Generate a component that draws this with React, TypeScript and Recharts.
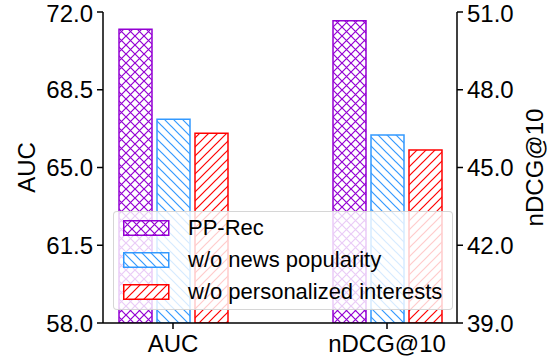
import React from 'react';
import { BarChart, Bar, XAxis, YAxis, Legend } from 'recharts';

const categories = ['AUC', 'nDCG@10'];
const seriesNames = ['PP-Rec', 'w/o news popularity', 'w/o personalized interests'];
const aucValues = [71.22, 67.17, 66.54];
const ndcgValues = [50.66, 46.25, 45.68];
const aucTicks = [58.0, 61.5, 65.0, 68.5, 72.0];
const ndcgTicks = [39.0, 42.0, 45.0, 48.0, 51.0];
const seriesColors = ['#9400d3', '#3399ff', '#ff0000'];
const seriesPatterns = ['hatchCross', 'hatchBack', 'hatchFwd'];

const data = categories.map((cat, ci) => {
  const row: Record<string, any> = { cat };
  seriesNames.forEach((_, si) => {
    row[`auc${si}`] = ci === 0 ? aucValues[si] : null;
    row[`ndcg${si}`] = ci === 1 ? ndcgValues[si] : null;
  });
  return row;
});

const FONT = '"Liberation Sans", Arial, Helvetica, sans-serif';
const P = 9;

const PatternDefs = () => (
  <svg width={0} height={0} style={{ position: 'absolute', left: 0, top: 0 }}>
    <defs>
      <pattern id="hatchCross" patternUnits="userSpaceOnUse" width={P} height={P}>
        <rect width={P} height={P} fill="#fff" />
        <path
          d={`M-1,-1L${P + 1},${P + 1}M-1,${P + 1}L${P + 1},-1`}
          stroke={seriesColors[0]}
          strokeWidth={1.2}
        />
      </pattern>
      <pattern id="hatchBack" patternUnits="userSpaceOnUse" width={P} height={P}>
        <rect width={P} height={P} fill="#fff" />
        <path
          d={`M-1,-1L${P + 1},${P + 1}M-2,${P - 2}L2,${P + 2}M${P - 2},-2L${P + 2},2`}
          stroke={seriesColors[1]}
          strokeWidth={1.2}
        />
      </pattern>
      <pattern id="hatchFwd" patternUnits="userSpaceOnUse" width={P} height={P}>
        <rect width={P} height={P} fill="#fff" />
        <path
          d={`M-1,${P + 1}L${P + 1},-1M-2,2L2,-2M${P - 2},${P + 2}L${P + 2},${P - 2}`}
          stroke={seriesColors[2]}
          strokeWidth={1.2}
        />
      </pattern>
    </defs>
  </svg>
);

const LegendBox = () => (
  <div
    style={{
      width: 340,
      height: 99,
      boxSizing: 'border-box',
      border: '1px solid rgba(204,204,204,0.8)',
      borderRadius: 4,
      background: 'rgba(255,255,255,0.8)',
      position: 'relative',
      fontFamily: FONT,
    }}
  >
    {seriesNames.map((name, i) => (
      <div
        key={name}
        style={{
          position: 'absolute',
          left: 9,
          top: 8 + i * 32.4,
          height: 16,
          display: 'flex',
          alignItems: 'center',
          whiteSpace: 'nowrap',
        }}
      >
        <svg width={47} height={16} style={{ display: 'block' }}>
          <rect
            x={0.75}
            y={0.75}
            width={45}
            height={14.5}
            fill={`url(#${seriesPatterns[i]})`}
            stroke={seriesColors[i]}
            strokeWidth={1.5}
          />
        </svg>
        <span style={{ marginLeft: 18, fontSize: 22, color: '#000', lineHeight: '22px' }}>{name}</span>
      </div>
    ))}
  </div>
);

const axisLine = { stroke: '#000', strokeWidth: 1.5 };
const tickLine = { stroke: '#000', strokeWidth: 1.5 };
const tickStyle = { fill: '#000', fontSize: 24, fontFamily: FONT };

export default function App() {
  return (
    <div style={{ position: 'absolute', left: 0, top: 0, fontFamily: FONT, background: '#fff' }}>
      <PatternDefs />
      <BarChart
        width={554}
        height={362}
        data={data}
        margin={{ top: 12, right: 37, bottom: 9, left: 43 }}
        barSize={33}
        barGap={5}
      >
        <XAxis
          dataKey="cat"
          xAxisId={0}
          padding={{ left: -37, right: -37 }}
          axisLine={axisLine}
          tickLine={tickLine}
          tickSize={6}
          tickMargin={6}
          tick={tickStyle}
          height={30}
          interval={0}
        />
        <XAxis
          dataKey="cat"
          xAxisId="top"
          orientation="top"
          height={0}
          tick={false}
          tickLine={false}
          axisLine={axisLine}
        />
        <YAxis
          yAxisId="left"
          orientation="left"
          width={60}
          domain={[aucTicks[0], aucTicks[aucTicks.length - 1]]}
          ticks={aucTicks}
          allowDataOverflow
          tickFormatter={(v: number) => v.toFixed(1)}
          axisLine={axisLine}
          tickLine={tickLine}
          tickSize={6}
          tickMargin={4}
          tick={tickStyle}
          label={{
            value: 'AUC',
            angle: -90,
            position: 'center',
            dx: -47,
            style: { fill: '#000', fontSize: 24, fontFamily: FONT },
          }}
        />
        <YAxis
          yAxisId="right"
          orientation="right"
          width={60}
          domain={[ndcgTicks[0], ndcgTicks[ndcgTicks.length - 1]]}
          ticks={ndcgTicks}
          allowDataOverflow
          tickFormatter={(v: number) => v.toFixed(1)}
          axisLine={axisLine}
          tickLine={tickLine}
          tickSize={6}
          tickMargin={4}
          tick={tickStyle}
          label={{
            value: 'nDCG@10',
            angle: -90,
            position: 'center',
            dx: 47,
            style: { fill: '#000', fontSize: 24, fontFamily: FONT },
          }}
        />
        {seriesNames.map((name, si) => (
          <Bar
            key={`auc${si}`}
            dataKey={`auc${si}`}
            name={name}
            yAxisId="left"
            stackId={`s${si}`}
            fill={`url(#${seriesPatterns[si]})`}
            stroke={seriesColors[si]}
            strokeWidth={1.5}
            isAnimationActive={false}
          />
        ))}
        {seriesNames.map((name, si) => (
          <Bar
            key={`ndcg${si}`}
            dataKey={`ndcg${si}`}
            name={name}
            yAxisId="right"
            stackId={`s${si}`}
            fill={`url(#${seriesPatterns[si]})`}
            stroke={seriesColors[si]}
            strokeWidth={1.5}
            isAnimationActive={false}
          />
        ))}
        <Legend
          layout="vertical"
          align="center"
          verticalAlign="middle"
          content={() => <LegendBox />}
          wrapperStyle={{ left: 113, top: 210.7, width: 340, height: 99 }}
        />
      </BarChart>
    </div>
  );
}
